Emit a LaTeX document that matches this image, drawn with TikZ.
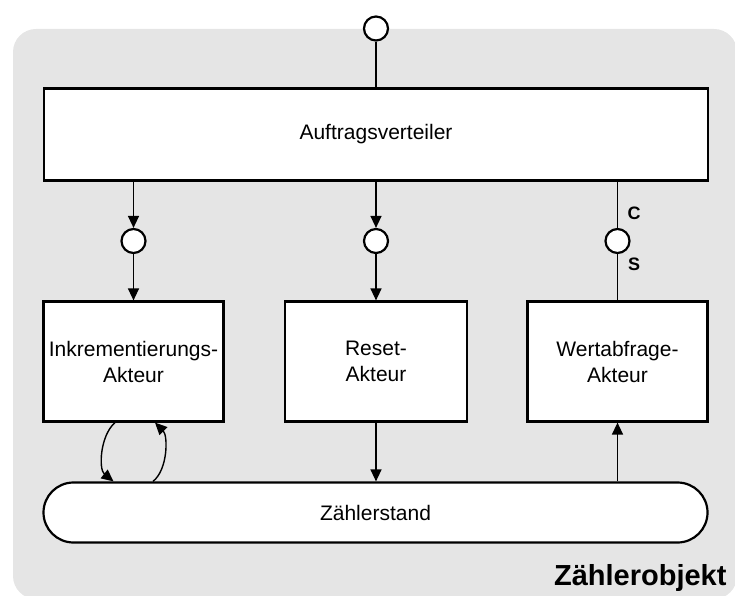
\documentclass[tikz,border=0pt]{standalone}
\usepackage{fontspec}
\setmainfont{Liberation Sans}
\usetikzlibrary{arrows.meta,calc,shapes.misc}

\begin{document}
\begin{tikzpicture}[x=1pt,y=-1pt,
  every node/.style={font=\fontsize{21}{26}\selectfont, text=black},
  box/.style={draw, line width=2.2pt, fill=white, rectangle, inner sep=0pt, align=center},
  port/.style={draw, circle, line width=2.2pt, fill=white, minimum size=24pt, inner sep=0pt},
  flow/.style={line width=1.4pt, -{Triangle[length=12pt,width=11pt]}},
  link/.style={line width=1.4pt},
  pinlabel/.style={font=\fontsize{18}{21}\selectfont\bfseries},
  title/.style={font=\fontsize{29}{34}\selectfont\bfseries}
]
\useasboundingbox (0,0) rectangle (735,596);

% object frame
\begin{scope}
  \clip (0,0) rectangle (735,596);
  \fill[black!10, rounded corners=23pt] (13,29) rectangle (737,599);
\end{scope}

% dispatcher and its entry port
\node[box, minimum width=664pt, minimum height=92pt] (disp) at (376,134.5) {Auftragsverteiler};
\node[port] (in0) at (376,28.5) {};

% ports of the actors
\node[port] (p1) at (133.5,241) {};
\node[port] (p2) at (376,241) {};
\node[port] (p3) at (617.5,241) {};

% actors
\node[box, minimum width=180pt, minimum height=120pt] (ink) at (133.5,361.5) {Inkrementierungs-\\Akteur};
\node[box, minimum width=182pt, minimum height=120pt] (reset) at (376,361.5) {Reset-\\Akteur};
\node[box, minimum width=180pt, minimum height=120pt] (wert) at (617.5,361.5) {Wertabfrage-\\Akteur};

% counter state
\node[draw, rounded rectangle, line width=2.2pt, fill=white, inner sep=0pt,
      minimum width=664pt, minimum height=60pt] (pill) at (375.5,512.5) {Zählerstand};

% labels
\node[pinlabel] (lc) at (634,213) {C};
\node[pinlabel] (ls) at (634,264) {S};
\node[title, anchor=base east] (obj) at (730,585) {Zählerobjekt};

% connectors
\draw[link] (in0) -- (in0 |- disp.north);
\draw[flow] (p1 |- disp.south) -- (p1);
\draw[flow] (p1) -- (ink);
\draw[flow] (p2 |- disp.south) -- (p2);
\draw[flow] (p2) -- (reset);
\draw[link] (p3 |- disp.south) -- (p3);
\draw[link] (p3) -- (wert);
\draw[flow] (reset) -- (reset.south |- pill.north);
\draw[flow] (wert.south |- pill.north) -- (wert);

% increment loop
\draw[flow] ($(ink.south)+(-18.5,0)$) .. controls +(-15,13) and +(-15,-12) .. ($(ink.south |- pill.north)+(-20,0)$);
\draw[flow] ($(ink.south |- pill.north)+(19.5,0)$) .. controls +(15,-12) and +(13,13) .. ($(ink.south)+(21.5,0)$);
\end{tikzpicture}
\end{document}
